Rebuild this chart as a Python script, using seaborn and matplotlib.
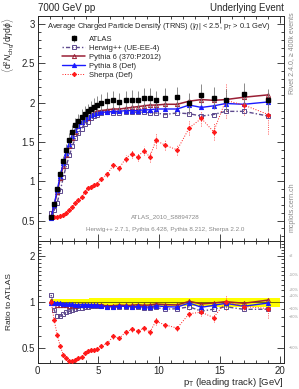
import numpy as np
import pandas as pd
import matplotlib
matplotlib.use("Agg")
import matplotlib.pyplot as plt
import matplotlib.ticker as mticker
import seaborn as sns

# bin edges of p_T(leading track) [GeV]
bin_edges = [1.0, 1.25, 1.5, 1.75, 2.0, 2.25, 2.5, 2.75, 3.0, 3.25, 3.5, 3.75, 4.0,
             4.25, 4.5, 4.75, 5.0, 5.5, 6.0, 6.5, 7.0, 7.5, 8.0, 8.5, 9.0, 9.5, 10.0,
             11.0, 12.0, 13.0, 14.0, 15.0, 16.0, 18.0, 20.0]

atlas = [0.54, 0.71, 0.90, 1.09, 1.26, 1.40, 1.53, 1.63, 1.72, 1.77, 1.82, 1.86, 1.89,
         1.92, 1.95, 1.97, 2.00, 2.02, 2.03, 2.01, 2.03, 2.04, 2.03, 2.06, 2.06, 2.03,
         2.06, 2.07, 2.00, 2.10, 2.06, 2.03, 2.11, 2.04]
atlas_err = [0.025, 0.035, 0.045, 0.055, 0.065, 0.075, 0.08, 0.085, 0.09, 0.09, 0.095, 0.1,
             0.1, 0.105, 0.11, 0.11, 0.11, 0.115, 0.115, 0.115, 0.12, 0.12, 0.12, 0.125,
             0.125, 0.125, 0.13, 0.13, 0.13, 0.135, 0.135, 0.14, 0.14, 0.14]

herwig = [0.60, 0.63, 0.73, 0.88, 1.05, 1.20, 1.33, 1.45, 1.55, 1.61, 1.67, 1.73, 1.76,
          1.80, 1.83, 1.85, 1.87, 1.88, 1.87, 1.87, 1.88, 1.88, 1.88, 1.88, 1.87, 1.87,
          1.85, 1.87, 1.86, 1.83, 1.85, 1.89, 1.89, 1.83]
pythia6 = [0.55, 0.70, 0.86, 1.04, 1.20, 1.33, 1.45, 1.55, 1.63, 1.70, 1.75, 1.79, 1.81,
           1.84, 1.87, 1.89, 1.90, 1.91, 1.92, 1.92, 1.93, 1.94, 1.95, 1.96, 1.97, 1.97,
           1.98, 1.98, 2.02, 2.04, 2.03, 2.04, 2.07, 2.10]
pythia8 = [0.535, 0.70, 0.89, 1.07, 1.23, 1.36, 1.48, 1.58, 1.65, 1.70, 1.75, 1.79, 1.82,
           1.84, 1.86, 1.87, 1.88, 1.88, 1.89, 1.89, 1.90, 1.90, 1.90, 1.91, 1.91, 1.92,
           1.92, 1.92, 1.97, 1.94, 1.96, 1.99, 1.98, 2.01]
sherpa = [0.54, 0.54, 0.55, 0.56, 0.57, 0.60, 0.63, 0.67, 0.72, 0.76, 0.80, 0.86, 0.91,
          0.93, 0.955, 0.97, 1.03, 1.09, 1.21, 1.17, 1.29, 1.35, 1.31, 1.39, 1.31, 1.52,
          1.46, 1.40, 1.68, 1.80, 1.63, 2.03, 1.97, 1.85]
sherpa_err = [0.01, 0.01, 0.01, 0.01, 0.012, 0.012, 0.014, 0.015, 0.016, 0.018, 0.02,
              0.02, 0.022, 0.024, 0.025, 0.026, 0.03, 0.035, 0.04, 0.04, 0.045, 0.05,
              0.05, 0.055, 0.06, 0.09, 0.06, 0.07, 0.09, 0.1, 0.11, 0.22, 0.13, 0.25]

edges = np.array(bin_edges)
x = 0.5 * (edges[:-1] + edges[1:])
atlas = np.array(atlas)
atlas_err = np.array(atlas_err)

mc = {
    "Herwig++ (UE-EE-4)": (np.array(herwig), None, "#5e4a8e", "s", "none", (0, (1, 1.5, 3, 1.5)), 1.0),
    "Pythia 6 (370:P2012)": (np.array(pythia6), None, "#9a1f35", "^", "none", "-", 1.1),
    "Pythia 8 (Def)": (np.array(pythia8), None, "#1a1aff", "^", "#1a1aff", "-", 1.0),
    "Sherpa (Def)": (np.array(sherpa), np.array(sherpa_err), "#ff1a1a", "D", "#ff1a1a", ":", 0.7),
}

sns.set_style("ticks")
plt.rcParams["font.family"] = ["Liberation Sans", "DejaVu Sans"]
plt.rcParams["mathtext.fontset"] = "custom"
plt.rcParams["mathtext.rm"] = "Liberation Sans"
plt.rcParams["mathtext.it"] = "Liberation Sans:italic"

fig = plt.figure(figsize=(2.99, 3.89), dpi=100)
L, R = 37.5 / 299, 284 / 299
ax = fig.add_axes([L, 1 - 241 / 389, R - L, (241 - 15.5) / 389])
axr = fig.add_axes([L, 1 - 363 / 389, R - L, (363 - 241) / 389], sharex=ax)

# main panel
ax.errorbar(x, atlas, yerr=atlas_err, fmt="s", color="black", ms=3.2,
            ecolor="#777777", elinewidth=0.6, capsize=0, zorder=5, label="ATLAS")
for name, (y, yerr, col, mk, mfc, ls, lw) in mc.items():
    sns.lineplot(x=x, y=y, ax=ax, color=col, marker=mk, markerfacecolor=mfc,
                 markeredgecolor=col, markersize=3 if mk != "D" else 2.2,
                 markeredgewidth=0.7, linestyle=ls, linewidth=lw, label=name,
                 zorder=4, sort=False, legend=False)
    if yerr is not None:
        ax.errorbar(x, y, yerr=yerr, fmt="none", ecolor=col, elinewidth=0.6,
                    capsize=0, zorder=3)[2][0].set_linestyle(":")

ax.set_xlim(0, 20.3)
ax.set_ylim(0.24, 3.11)
ax.yaxis.set_major_locator(mticker.MultipleLocator(0.5))
ax.yaxis.set_minor_locator(mticker.MultipleLocator(0.1))
ax.xaxis.set_major_locator(mticker.MultipleLocator(5))
ax.xaxis.set_minor_locator(mticker.MultipleLocator(1))
ax.yaxis.set_major_formatter(mticker.FuncFormatter(lambda v, p: f"{v:g}"))
plt.setp(ax.get_xticklabels(), visible=False)
ax.set_ylabel(r"$\langle\mathrm{d}^2 N_{\mathrm{chg}}/\mathrm{d}\eta\mathrm{d}\phi\rangle$",
              fontsize=6.2, loc="top")
ax.yaxis.set_label_coords(-0.088, 0.99)

h, l = ax.get_legend_handles_labels()
order = [l.index("ATLAS")] + [i for i, t in enumerate(l) if t != "ATLAS"]
ax.legend([h[i] for i in order], [l[i] for i in order], loc="upper left",
          bbox_to_anchor=(0.1, 0.91), fontsize=5.5, frameon=False, labelspacing=0.2,
          handlelength=3.0, handletextpad=0.5, borderaxespad=0, borderpad=0)
ax.text(0.04, 0.975, r"Average Charged Particle Density (TRNS) (|$\eta$| < 2.5, p$_\mathrm{T}$ > 0.1 GeV)",
        transform=ax.transAxes, fontsize=5.4, va="top", ha="left")
ax.text(0.52, 0.1, "ATLAS_2010_S8894728", transform=ax.transAxes, fontsize=4.5,
        color="#888888", ha="center")
ax.text(0.52, 0.045, "Herwig++ 2.7.1, Pythia 6.428, Pythia 8.212, Sherpa 2.2.0",
        transform=ax.transAxes, fontsize=4.5, color="#888888", ha="center")

fig.text(L, 1 - 8 / 389, "7000 GeV pp", fontsize=7, va="center", ha="left")
fig.text(R, 1 - 8 / 389, "Underlying Event", fontsize=7, va="center", ha="right")
fig.text(292 / 299, 1 - 12 / 389, "Rivet 2.4.0, \u2265 400k events", fontsize=5,
         color="#888888", rotation=90, va="top", ha="center")
fig.text(292 / 299, 1 - 232 / 389, "mcplots.cern.ch", fontsize=5,
         color="#888888", rotation=90, va="bottom", ha="center")

# ratio panel
axr.fill_between(edges, np.append(1 - atlas_err / atlas, 1 - atlas_err[-1] / atlas[-1]),
                 np.append(1 + atlas_err / atlas, 1 + atlas_err[-1] / atlas[-1]),
                 step="post", color="#ffff00", lw=0, zorder=1)
axr.plot(edges, np.ones_like(edges), color="black", lw=0.4, drawstyle="steps-post", zorder=2)
for name, (y, yerr, col, mk, mfc, ls, lw) in mc.items():
    sns.lineplot(x=x, y=y / atlas, ax=axr, color=col, marker=mk, markerfacecolor=mfc,
                 markeredgecolor=col, markersize=3 if mk != "D" else 2.2,
                 markeredgewidth=0.7, linestyle=ls, linewidth=lw, zorder=4,
                 sort=False, legend=False)
    if yerr is not None:
        axr.errorbar(x, y / atlas, yerr=yerr / atlas, fmt="none", ecolor=col,
                     elinewidth=0.6, capsize=0, zorder=3)[2][0].set_linestyle(":")

axr.set_yscale("log")
axr.set_ylim(0.4, 2.5)
axr.yaxis.set_major_locator(mticker.FixedLocator([0.5, 1, 2]))
axr.yaxis.set_minor_locator(mticker.FixedLocator(np.arange(0.4, 2.5, 0.1)))
axr.yaxis.set_major_formatter(mticker.FuncFormatter(lambda v, p: f"{v:g}"))
axr.yaxis.set_minor_formatter(mticker.NullFormatter())
axr.set_ylabel("Ratio to ATLAS", fontsize=6)
axr.yaxis.set_label_coords(-0.1, 0.5)
axr.set_xlabel(r"p$_\mathrm{T}$ (leading track) [GeV]", fontsize=6.8, loc="right", labelpad=0)
for val, lab in [(2, "\u00d72"), (1.5, "+50%"), (1.2, "+20%"), (1.1, "+10%"),
                 (0.9, "\u221210%"), (0.8, "\u221220%"), (0.5, "\u221250%")]:
    axr.text(1.02, val, lab, transform=axr.get_yaxis_transform(), fontsize=2.8,
             color="#999999", va="center", ha="left")

for a in (ax, axr):
    a.tick_params(which="both", direction="in", top=True, right=True, labelsize=7,
                  width=0.6, pad=2)
    a.tick_params(which="major", length=5)
    a.tick_params(which="minor", length=2.5)
    for s in a.spines.values():
        s.set_linewidth(0.7)

fig.savefig("out.png", dpi=100)
